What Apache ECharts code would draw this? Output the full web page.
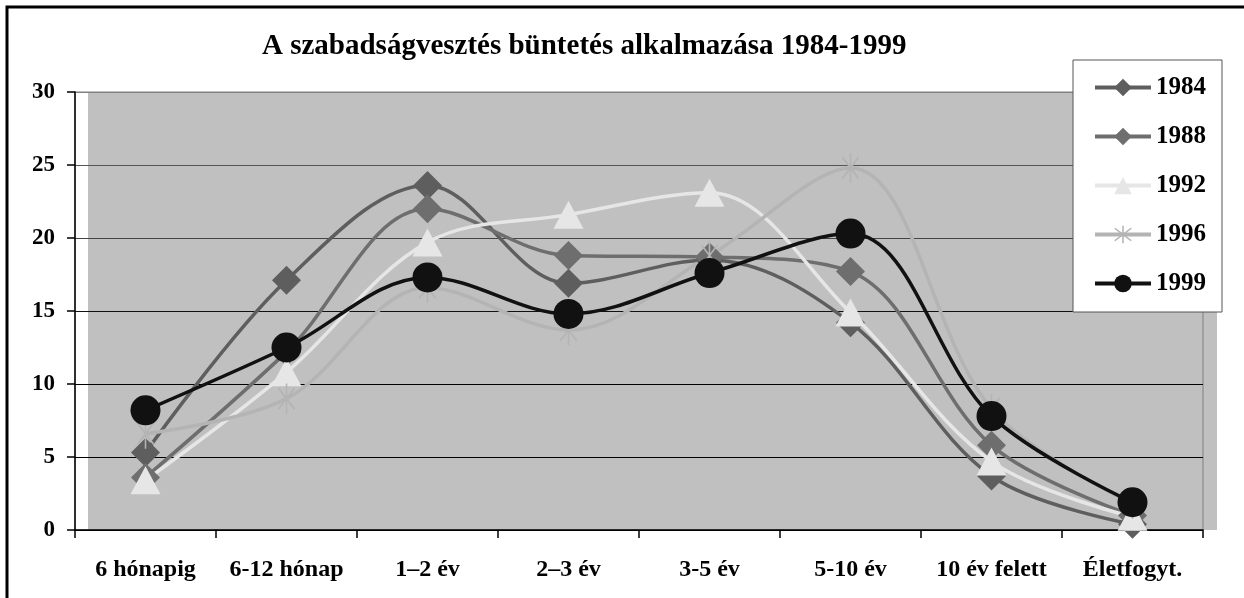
<!DOCTYPE html>
<html>
<head>
<meta charset="utf-8">
<script src="https://cdn.jsdelivr.net/npm/echarts@6/dist/echarts.min.js"></script>
<style>
  html, body { margin: 0; padding: 0; background: #fff; }
  #chart { width: 1244px; height: 598px; }
</style>
</head>
<body>
<div id="chart"></div>
<script>
  // kategóriák és adatok (leolvasva)
  const categories = ['6 hónapig', '6-12 hónap', '1–2 év', '2–3 év', '3-5 év', '5-10 év', '10 év felett', 'Életfogyt.']
  const seriesNames = ['1984', '1988', '1992', '1996', '1999']
  const data1984 = [5.3, 17.1, 23.6, 16.9, 18.5, 14.2, 3.7, 0.4]
  const data1988 = [3.6, 12.2, 22.0, 18.8, 18.7, 17.7, 5.8, 1.0]
  const data1992 = [3.4, 10.8, 19.7, 21.6, 23.1, 14.9, 4.7, 0.9]
  const data1996 = [6.6, 9.0, 16.6, 13.7, 18.8, 24.8, 8.3, 1.8]
  const data1999 = [8.2, 12.5, 17.3, 14.8, 17.6, 20.3, 7.8, 1.9]
  const yTicks = [0, 5, 10, 15, 20, 25, 30]

  const font = 'Liberation Serif'
  const asterisk = 'path://M-1,-15L1,-15L1,15L-1,15Z' +
    'M-11.3,-9.9L-9.9,-11.3L11.3,9.9L9.9,11.3Z' +
    'M9.9,-11.3L11.3,-9.9L-9.9,11.3L-11.3,9.9Z'

  function line (name, data, color, symbol, size) {
    return {
      name: name,
      type: 'line',
      data: data,
      smooth: 0.35,
      symbol: symbol,
      symbolSize: size,
      symbolKeepAspect: true,
      showAllSymbol: true,
      lineStyle: { color: color, width: 3.5 },
      itemStyle: { color: color, borderWidth: 0 },
      emphasis: { disabled: true },
      xAxisIndex: 0,
      yAxisIndex: 0
    }
  }

  const chart = echarts.init(document.getElementById('chart'), null, { renderer: 'canvas' })
  chart.setOption({
    animation: false,
    backgroundColor: '#ffffff',
    title: {
      text: 'A szabadságvesztés büntetés alkalmazása 1984-1999',
      left: 262,
      top: 32,
      padding: 0,
      textStyle: { fontFamily: font, fontSize: 29, fontWeight: 'bold', color: '#000' }
    },
    legend: {
      orient: 'vertical',
      left: 1073,
      top: 60,
      padding: [15, 16, 16, 20],
      itemWidth: 56,
      itemHeight: 22,
      itemGap: 24,
      backgroundColor: '#ffffff',
      borderColor: '#555',
      borderWidth: 1,
      borderRadius: 0,
      data: seriesNames,
      lineStyle: { width: 4 },
      textStyle: { fontFamily: font, fontSize: 25, fontWeight: 'bold', color: '#000', lineHeight: 22 }
    },
    graphic: [{
      type: 'rect',
      shape: { x: 7, y: 7, width: 1400, height: 800 },
      style: { fill: null, stroke: '#000', lineWidth: 3 },
      silent: true
    }],
    grid: [
      { left: 75, right: 41, top: 92, bottom: 68, show: true, backgroundColor: 'transparent', borderColor: '#808080', borderWidth: 1, z: 1 },
      { left: 88, right: 27, top: 92, bottom: 68, show: true, backgroundColor: '#c0c0c0', borderWidth: 0, z: 0 }
    ],
    xAxis: [{
      type: 'category',
      gridIndex: 0,
      data: categories,
      boundaryGap: true,
      axisLine: { show: true, lineStyle: { color: '#000', width: 1.5 } },
      axisTick: { show: true, length: 8, lineStyle: { color: '#000', width: 1.5 } },
      axisLabel: { margin: 28, fontFamily: font, fontSize: 24, fontWeight: 'bold', color: '#000', interval: 0 },
      splitLine: { show: false },
      z: 3
    }, {
      type: 'category', gridIndex: 1, data: categories, show: false
    }],
    yAxis: [{
      type: 'value',
      gridIndex: 0,
      min: yTicks[0],
      max: yTicks[yTicks.length - 1],
      interval: 5,
      axisLine: { show: true, lineStyle: { color: '#000', width: 1.5 } },
      axisTick: { show: true, length: 8, lineStyle: { color: '#000', width: 1.5 } },
      axisLabel: { margin: 20, fontFamily: font, fontSize: 23, fontWeight: 'bold', color: '#000' },
      splitLine: { show: true, lineStyle: { color: ['#000', '#000', '#000', '#111', '#444', '#555', '#808080'], width: 1.2 } },
      z: 3
    }, {
      type: 'value', gridIndex: 1, min: 0, max: 30, show: false, splitLine: { show: false }
    }],
    series: [
      line('1984', data1984, '#5e5e5e', 'diamond', [29, 29]),
      line('1988', data1988, '#6e6e6e', 'diamond', [29, 29]),
      line('1992', data1992, '#e6e6e6', 'triangle', [30, 28]),
      line('1996', data1996, '#b4b4b4', asterisk, [23, 30]),
      line('1999', data1999, '#111111', 'circle', 30)
    ]
  })
</script>
</body>
</html>
